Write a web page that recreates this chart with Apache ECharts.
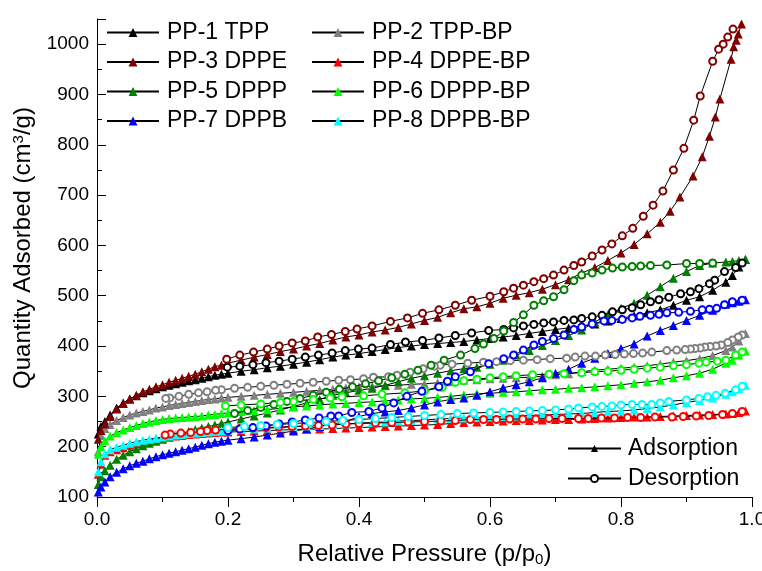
<!DOCTYPE html>
<html>
<head>
<meta charset="utf-8">
<script src="https://cdn.jsdelivr.net/npm/echarts@6/dist/echarts.min.js"></script>
<style>html,body{margin:0;padding:0;background:#fff}#c{width:762px;height:571px}</style>
</head>
<body>
<div id="c"></div>
<script>
// ---------- DATA ----------
const seriesNames = ['PP-1 TPP','PP-2 TPP-BP','PP-3 DPPE','PP-4 DPPE-BP','PP-5 DPPP','PP-6 DPPP-BP','PP-7 DPPB','PP-8 DPPB-BP'];
const branchNames = ['Adsorption','Desorption'];
const xTicks = [0,0.2,0.4,0.6,0.8,1.0];
const yTicks = [100,200,300,400,500,600,700,800,900,1000];

const adsP = [0.002,0.006,0.012,0.02,0.03,0.04,0.05,0.06,0.07,0.08, 0.09,0.10,0.11,0.12,0.13,0.14,0.15,0.16,0.17,0.18, 0.19,0.20,0.22,0.24,0.26,0.28,0.30,0.32,0.34,0.36, 0.38,0.40,0.42,0.44,0.46,0.48,0.50,0.52,0.54,0.56, 0.58,0.60,0.62,0.64,0.66,0.68,0.70,0.72,0.74,0.76, 0.78,0.80,0.82,0.84,0.86,0.88,0.90,0.92,0.94,0.96, 0.97,0.98,0.99];

const pp1Ads = [225,240,250,263,277,287,295,301,307,311, 315,319,322,325,328,331,333,336,339,342, 344,346,350,353,357,360,364,368,373,378, 382,385,389,393,397,400,403,405,407,409, 412,415,418,421,425,429,433,436,440,444, 450,455,460,466,472,481,491,498,511,527, 540,557,572];
const pp1DesP = [0.985,0.975,0.958,0.943,0.935,0.919,0.906,0.891,0.873,0.858, 0.845,0.83,0.817,0.802,0.787,0.771,0.756,0.74,0.728,0.713, 0.697,0.682,0.667,0.651,0.636,0.621,0.598,0.572,0.547,0.522, 0.497,0.471,0.448,0.42,0.399,0.379,0.359,0.338,0.318,0.298, 0.278,0.258,0.238,0.218,0.199];
const pp1Des = [565,556,548,531,524,514,508,504,497,492, 488,482,476,472,468,461,458,455,452,451, 448,446,443,440,436,433,431,426,421,416, 411,408,403,396,394,391,386,382,378,374, 370,367,363,360,358];

const pp2Ads = [190,222,236,244,252,258,263,267,270,273, 277,279,282,284,286,288,290,292,294,295, 297,298,300,302,304,306,308,310,312,314, 317,319,320,321,322,324,325,327,329,332, 333,335,336,337,338,340,343,345,349,352, 354,356,358,361,364,368,371,375,381,391, 398,410,425];
const pp2DesP = [0.985,0.979,0.97,0.963,0.953,0.945,0.936,0.928,0.921,0.913, 0.906,0.898,0.885,0.87,0.847,0.833,0.819,0.805,0.791,0.776, 0.761,0.745,0.73,0.717,0.692,0.672,0.651,0.631,0.61,0.59, 0.566,0.542,0.524,0.515,0.498,0.478,0.458,0.445,0.422,0.407, 0.387,0.369,0.35,0.33,0.31,0.29,0.27,0.25,0.23,0.21, 0.19,0.181,0.168,0.155,0.14,0.125,0.111,0.105];
const pp2Des = [422,418,412,407,402,400,399,398,396,395, 394,393,392,391,388,386,385,384,383,382, 380,380,378,376,375,373,372,371,369,368, 366,364,362,360,355,348,342,339,338,335, 333,332,330,328,326,324,322,320,318,316, 313,312,309,307,304,300,297,296];

const pp3AdsP = [0.002,0.006,0.012,0.02,0.03,0.04,0.05,0.06,0.07,0.08, 0.09,0.10,0.11,0.12,0.13,0.14,0.15,0.16,0.17,0.18, 0.19,0.20,0.22,0.24,0.26,0.28,0.30,0.32,0.34,0.36, 0.38,0.40,0.42,0.44,0.46,0.48,0.50,0.52,0.54,0.56, 0.58,0.60,0.62,0.64,0.66,0.68,0.70,0.72,0.74,0.76, 0.78,0.80,0.82,0.84, 0.86,0.875,0.89,0.91,0.924,0.935,0.944,0.951,0.968,0.972,0.976,0.979,0.984];
const pp3Ads = [215,232,245,260,275,286,295,302,309,314, 319,323,328,332,336,340,344,349,354,359, 362,366,372,378,383,389,394,400,405,412, 418,422,428,432,437,444,451,457,466,474, 478,485,495,501,506,513,522,532,545,556, 570,585,602,623, 646,668,696,738,776,817,855,891,970,995,1008,1020,1040];
const pp3DesP = [0.971,0.963,0.956,0.949,0.94, 0.921,0.911,0.896,0.88,0.864, 0.849,0.834,0.818,0.802,0.786, 0.771,0.756,0.74,0.728,0.713, 0.697,0.682,0.667,0.651,0.636, 0.621,0.6,0.572,0.547,0.522, 0.497,0.474,0.448,0.42,0.397, 0.379,0.358,0.337,0.318,0.298, 0.278,0.26,0.239,0.218,0.198];
const pp3Des = [1030,1014,1000,990,966, 897,849,793,750,708, 680,658,634,619,603, 591,579,567,560,551, 541,534,528,521,515, 508,499,491,481,472, 465,456,449,440,434, 429,423,418,410,406, 400,394,388,382,374];

const pp4Ads = [145,165,183,190,194,198,203,206,209,212, 215,217,219,221,222,224,225,226,227,228, 229,229,230,231,232,233,234,235,235,236, 237,238,239,240,241,242,243,244,246,248, 249,250,251,252,252,253,254,254,255,256, 257,258,259,259,260,261,262,263,264,265, 266,268,271];
const pp4DesP = [0.985,0.97,0.955,0.934,0.915,0.895,0.878,0.852,0.83,0.81, 0.79,0.77,0.75,0.735,0.71,0.69,0.67,0.65,0.63,0.61, 0.59,0.57,0.547,0.525,0.5,0.475,0.45,0.425,0.4,0.38, 0.359,0.338,0.318,0.298,0.278,0.258,0.238,0.218,0.2,0.181, 0.168,0.158,0.143,0.128,0.112,0.104];
const pp4Des = [270,266,264,262,261,260,259,259,258,258, 257,257,256,256,256,256,255,255,255,254, 254,254,252,251,250,249,248,247,246,245, 243,242,241,240,239,238,237,236,235,233, 232,230,228,227,225,223];

const pp5Ads = [125,140,152,163,175,183,190,196,202,207, 211,215,219,223,227,230,234,237,240,243, 246,249,255,261,267,273,280,287,294,302, 307,312,316,322,329,336,341,346,351,355, 358,364,372,382,391,401,411,421,432,448, 462,475,485,501,518,535,548,560,565,567, 568,570,572];
const pp5DesP = [0.94,0.92,0.9,0.87,0.845,0.83,0.817,0.802,0.787,0.771, 0.756,0.74,0.728,0.713,0.697,0.682,0.667,0.651,0.636,0.621, 0.606,0.59,0.577,0.555,0.53,0.51,0.49,0.47,0.45,0.43, 0.41,0.39,0.37,0.35,0.33,0.31,0.29,0.27,0.25,0.23, 0.21];
const pp5Des = [565,564,564,561,560,559,558,557,555,551, 545,541,530,512,498,490,481,462,447,430, 415,404,395,382,372,362,352,344,337,331, 325,319,314,308,302,296,290,284,278,272, 266];

const pp6Ads = [185,200,212,221,228,233,238,242,246,249, 252,254,256,257,258,259,260,261,263,264, 266,267,270,272,274,276,279,281,283,285, 286,288,289,291,293,295,296,298,300,303, 305,306,308,309,311,313,314,316,317,319, 321,323,326,329,332,337,341,346,354,366, 372,382,390];
const pp6DesP = [0.985,0.975,0.96,0.947,0.93,0.919,0.9,0.88,0.86,0.84, 0.82,0.8,0.78,0.76,0.74,0.713,0.69,0.665,0.64,0.62, 0.6,0.58,0.56,0.547,0.527,0.5,0.47,0.435,0.407,0.374, 0.356,0.33,0.3,0.28,0.25,0.22,0.196];
const pp6Des = [388,382,372,370,368,366,363,361,358,356, 354,352,350,349,347,345,344,343,341,339, 337,334,331,328,318,311,307,304,301,299, 297,294,290,288,285,283,281];

const pp7Ads = [110,120,130,140,149,156,162,167,171,176, 180,184,187,190,193,196,199,203,206,209, 211,213,216,219,223,227,231,235,240,245, 250,260,266,269,272,277,283,289,294,297, 302,309,317,323,329,337,346,354,366,376, 385,395,404,420,431,441,451,461,471,483, 486,489,492];
const pp7DesP = [0.985,0.97,0.958,0.946,0.935,0.924,0.906,0.888,0.87,0.858, 0.845,0.829,0.817,0.802,0.786,0.774,0.756,0.74,0.728,0.713, 0.697,0.68,0.667,0.651,0.636,0.621,0.598,0.57,0.547,0.535, 0.522,0.496,0.473,0.453,0.435,0.415,0.389,0.369,0.357,0.339, 0.318,0.298,0.278,0.258,0.238,0.218,0.2];
const pp7Des = [491,488,482,475,473,472,469,467,466,463, 461,459,456,453,451,450,444,438,433,422, 415,409,402,392,382,375,365,349,339,330, 319,310,300,287,277,270,268,261,261,257, 253,249,245,241,238,235,232];

const pp8Ads = [150,170,186,194,199,203,207,210,213,215, 217,219,221,223,224,226,227,228,229,230, 231,232,234,235,237,238,240,241,242,244, 245,247,248,249,251,252,253,255,256,257, 258,259,260,261,262,263,264,265,266,268, 270,271,273,276,279,283,288,292,297,304, 309,315,322];
const pp8DesP = [0.985,0.975,0.959,0.945,0.932,0.919,0.9,0.873,0.86,0.847, 0.832,0.817,0.8,0.786,0.771,0.756,0.735,0.72,0.7,0.68, 0.66,0.64,0.62,0.6,0.575,0.55,0.525,0.5,0.475,0.45, 0.425,0.4,0.375,0.35,0.325,0.3,0.275,0.25,0.225,0.2];
const pp8Des = [320,313,306,302,299,296,293,290,287,284, 284,284,283,281,280,279,277,275,273,272, 271,270,269,268,267,266,264,262,260,258, 256,254,252,250,248,246,244,242,240,238];

// ---------- BUILD ----------
const colors = ['#000000','#808080','#800000','#ff0000','#008000','#00ff00','#0000ff','#00ffff'];
const adsSets = [[adsP,pp1Ads],[adsP,pp2Ads],[pp3AdsP,pp3Ads],[adsP,pp4Ads],[adsP,pp5Ads],[adsP,pp6Ads],[adsP,pp7Ads],[adsP,pp8Ads]];
const desSets = [[pp1DesP,pp1Des],[pp2DesP,pp2Des],[pp3DesP,pp3Des],[pp4DesP,pp4Des],[pp5DesP,pp5Des],[pp6DesP,pp6Des],[pp7DesP,pp7Des],[pp8DesP,pp8Des]];
function pairs(p, v){ const n=Math.min(p.length,v.length); const out=[]; for(let i=0;i<n;i++) out.push([p[i],v[i]]); return out; }

const FONT = '"Liberation Sans", Arial, sans-serif';
const series = [];
for (let i=0;i<8;i++){
  series.push({
    type:'line', name: seriesNames[i], data: pairs(adsSets[i][0], adsSets[i][1]),
    symbol:'triangle', symbolSize:9, z: 2,
    lineStyle:{color:'#000', width:1}, itemStyle:{color:colors[i]},
    emphasis:{disabled:true}, animation:false
  });
  series.push({
    type:'line', name: seriesNames[i] + ' (des)', data: pairs(desSets[i][0], desSets[i][1]),
    symbol:'emptyCircle', symbolSize:7, z: 3,
    lineStyle:{color:'#000', width:1}, itemStyle:{color:colors[i], borderWidth:1},
    emphasis:{disabled:true}, animation:false
  });
}
series.push({type:'line', name: branchNames[0], data: [], symbol:'triangle', lineStyle:{color:'#000',width:1}, itemStyle:{color:'#000'}});
series.push({type:'line', name: branchNames[1], data: [], symbol:'emptyCircle', lineStyle:{color:'#000',width:1}, itemStyle:{color:'#000', borderWidth:1}});

const legendText = {fontSize:23, color:'#000', fontFamily:FONT, lineHeight:23, padding:[0,0,0,3]};
const chart = echarts.init(document.getElementById('c'), null, {renderer:'canvas'});
chart.setOption({
  backgroundColor:'#fff',
  animation:false,
  textStyle:{fontFamily:FONT},
  grid:{left:97, right:10, top:19, bottom:74, containLabel:false, outerBoundsMode:'none'},
  legend:[
    {data:[seriesNames[0],seriesNames[2],seriesNames[4],seriesNames[6]], orient:'vertical', left:106, top:21, padding:0,
     itemWidth:52, itemHeight:11, itemGap:6.5, textStyle:legendText, selectedMode:false},
    {data:[seriesNames[1],seriesNames[3],seriesNames[5],seriesNames[7]], orient:'vertical', left:311, top:21, padding:0,
     itemWidth:52, itemHeight:11, itemGap:6.5, textStyle:legendText, selectedMode:false},
    {data:branchNames, orient:'vertical', left:567, top:437, padding:0,
     itemWidth:53, itemHeight:9, itemGap:7, textStyle:{fontSize:23, color:'#000', fontFamily:FONT, lineHeight:23, padding:[0,0,0,2]}, selectedMode:false}
  ],
  xAxis:{
    type:'value', min:xTicks[0], max:xTicks[xTicks.length-1], interval:0.2,
    name:'Relative Pressure (p/p{sub|0})', nameLocation:'middle', nameGap:45,
    nameTextStyle:{fontSize:24, color:'#000', fontFamily:FONT,
      rich:{sub:{fontSize:15, fontFamily:FONT, color:'#000', verticalAlign:'bottom', padding:[10,0,0,0]}}},
    axisLine:{show:true, lineStyle:{color:'#000', width:1}},
    axisTick:{show:true, inside:false, length:10, lineStyle:{color:'#000'}},
    minorTick:{show:true, splitNumber:2, length:5, lineStyle:{color:'#000'}},
    axisLabel:{fontSize:19, color:'#000', fontFamily:FONT, margin:13, formatter:(v)=>v.toFixed(1)},
    splitLine:{show:false}
  },
  yAxis:{
    type:'value', min:yTicks[0], max:1050, interval:100,
    name:'Quantity Adsorbed (cm{sup|3}/g)', nameLocation:'middle', nameGap:55, nameRotate:90,
    nameTextStyle:{fontSize:24, color:'#000', fontFamily:FONT, padding:[0,0,0,20],
      rich:{sup:{fontSize:15, fontFamily:FONT, color:'#000', verticalAlign:'top', padding:[0,0,10,0]}}},
    axisLine:{show:true, lineStyle:{color:'#000', width:1}},
    axisTick:{show:true, inside:true, length:9, lineStyle:{color:'#000'}},
    minorTick:{show:true, splitNumber:2, length:5, lineStyle:{color:'#000'}},
    axisLabel:{fontSize:19, color:'#000', fontFamily:FONT, margin:8, showMaxLabel:false,
      formatter:(v)=> (yTicks.indexOf(v) >= 0 ? String(v) : '')},
    splitLine:{show:false}
  },
  series: series
});
</script>
</body>
</html>
